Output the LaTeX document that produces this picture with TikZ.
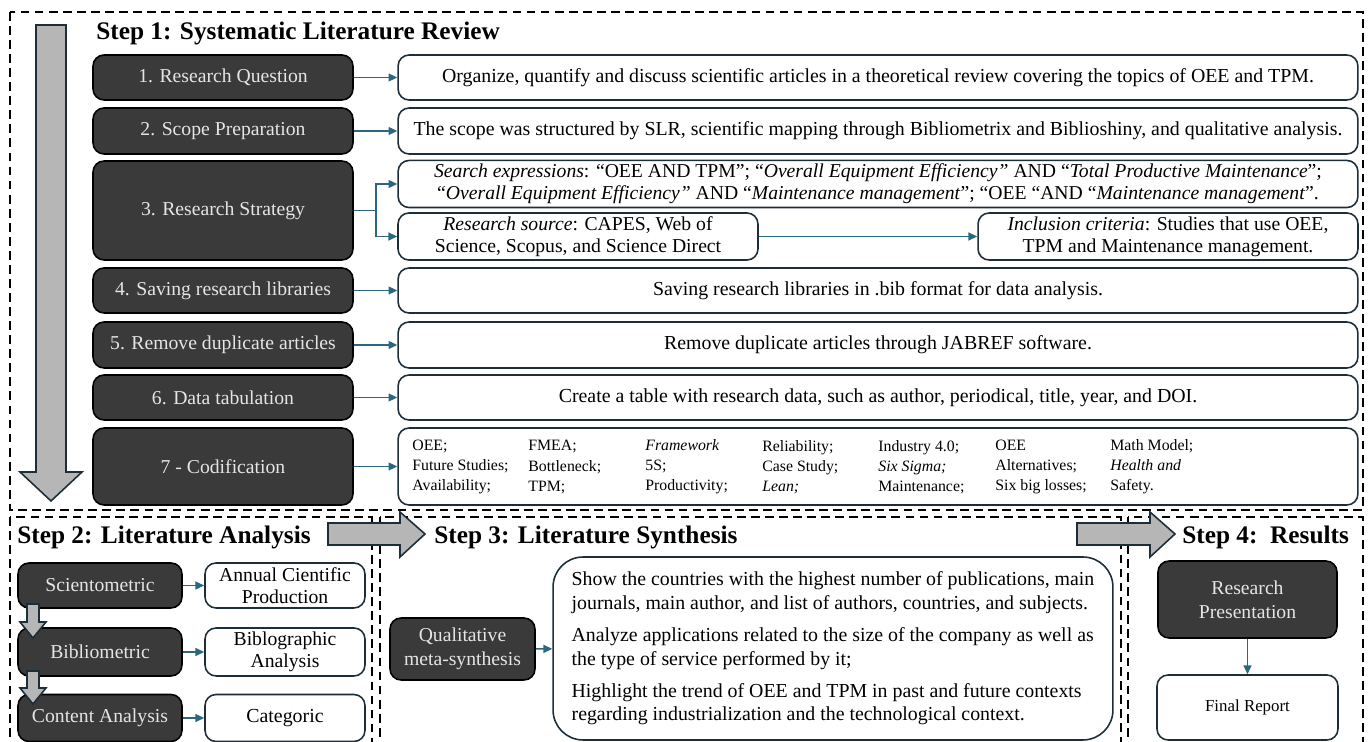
\documentclass[tikz,border=0pt]{standalone}
\usepackage{fontspec}
\setmainfont{Liberation Serif}
\usetikzlibrary{arrows.meta,positioning,calc}
\definecolor{boxgray}{RGB}{58,58,58}
\definecolor{linkblue}{RGB}{42,104,128}
\definecolor{framegray}{RGB}{30,46,56}
\definecolor{arrowgray}{RGB}{182,182,182}
\tikzset{
	x=0.02cm, y=-0.02cm,
	dark/.style={draw=black, line width=0.9pt, fill=boxgray, text=white!90!black, rounded corners=0.22cm, align=center, inner sep=2pt, font=\fontsize{11.2}{13.5}\selectfont},
	light/.style={draw=framegray, line width=0.9pt, fill=white, rounded corners=0.22cm, align=center, inner sep=2pt, font=\fontsize{11.3}{13.5}\selectfont},
	stepbox/.style={dark, minimum width=5.2cm},
	textbox/.style={light, minimum width=19.2cm},
	link/.style={-{Triangle[length=5pt,width=4.5pt]}, linkblue, line width=0.9pt},
	blockarrow/.style={draw=framegray, fill=arrowgray, line width=0.9pt, line join=miter},
	frame/.style={line width=0.6pt, dash pattern=on 5pt off 3pt},
	title/.style={anchor=west, font=\fontsize{14.4}{16}\selectfont\bfseries, inner sep=0pt}
}

\begin{document}
\begin{tikzpicture}
    \useasboundingbox (0,0) rectangle (1370,742);
    \clip (0,0) rectangle (1370,742);

    % frames
    \draw[frame] (10,12) rectangle (1363,510);
    \draw[frame] (10,517) rectangle (372,760);
    \draw[frame] (380,517) rectangle (1121,760);
    \draw[frame] (1128,517) rectangle (1363,760);

    % Step 1
    \node[title] (t1) at (96,33) {Step 1: Systematic Literature Review};
    \draw[blockarrow] (36,25) -- (66,25) -- (66,472) -- (82,472) -- (51,501) -- (20,472) -- (36,472) -- cycle;

    \node[stepbox, minimum height=0.9cm] (q1) at (223,77.5) {1. Research Question};
    \node[stepbox, minimum height=0.92cm] (q2) at (223,131) {2. Scope Preparation};
    \node[stepbox, minimum height=1.98cm] (q3) at (223,210.5) {3. Research Strategy};
    \node[stepbox, minimum height=0.9cm] (q4) at (223,290.5) {4. Saving research libraries};
    \node[stepbox, minimum height=0.92cm] (q5) at (223,345) {5. Remove duplicate articles};
    \node[stepbox, minimum height=0.9cm] (q6) at (223,397.5) {6. Data tabulation};
    \node[stepbox, minimum height=1.54cm] (q7) at (223,466.5) {7 - Codification};

    \node[textbox, minimum height=0.9cm] (d1) at (878,77.5) {Organize, quantify and discuss scientific articles in a theoretical review  covering the topics of OEE and TPM.};
    \node[textbox, minimum height=0.92cm] (d2) at (878,131) {The scope was structured by SLR, scientific mapping through Bibliometrix  and Biblioshiny,  and qualitative  analysis.};
    \node[textbox, minimum height=0.92cm, font=\fontsize{11.2}{12.5}\selectfont] (d3) at (878,184) {\textit{Search expressions}: “OEE AND TPM”; “\textit{Overall Equipment Efficiency”} AND “\textit{Total Productive Maintenance}”;\\“\textit{Overall Equipment Efficiency”} AND “\textit{Maintenance management}”;  “OEE “AND “\textit{Maintenance management}”.};
    \node[light, minimum width=7.2cm, minimum height=0.94cm, font=\fontsize{11.2}{12.5}\selectfont] (s3) at (578,236.5) {\textit{Research source}: CAPES, Web of\\Science, Scopus, and Science Direct};
    \node[light, minimum width=7.6cm, minimum height=0.94cm, font=\fontsize{11.2}{12.5}\selectfont] (c3) at (1168,236.5) {\textit{Inclusion criteria}: Studies that use OEE,\\TPM and Maintenance  management.};
    \node[textbox, minimum height=0.9cm] (d4) at (878,290.5) {Saving research libraries  in .bib format for data analysis.};
    \node[textbox, minimum height=0.92cm] (d5) at (878,345) {Remove duplicate articles  through JABREF  software.};
    \node[textbox, minimum height=0.9cm] (d6) at (878,397.5) {Create a table with research data, such as author, periodical, title,  year, and DOI.};
    \node[textbox, minimum height=1.54cm] (d7) at (878,466.5) {};
    \foreach \cx/\ctext [count=\i] in {412/{OEE;\\Future Studies;\\Availability;},
        528/{FMEA;\\Bottleneck;\\TPM;},
        645/{\textit{Framework}\\5S;\\Productivity;},
        762/{Reliability;\\Case Study;\\\textit{Lean;}},
        878/{Industry 4.0;\\\textit{Six Sigma;}\\Maintenance;},
        995/{OEE\\Alternatives;\\Six big losses;},
        1110/{Math Model;\\\textit{Health and}\\Safety.}}
        \node[anchor=west, align=left, inner sep=0pt, font=\fontsize{9}{11.4}\selectfont] (k\i) at (\cx,467) {\ctext};

    \draw[link] (q1) -- (d1);
    \draw[link] (q2) -- (d2);
    \draw[link] (q3.east) -- ++(22,0) |- (d3.west);
    \draw[link] (q3.east) -- ++(22,0) |- (s3.west);
    \draw[link] (s3) -- (c3);
    \draw[link] (q4) -- (d4);
    \draw[link] (q5) -- (d5);
    \draw[link] (q6) -- (d6);
    \draw[link] (q7) -- (d7);

    % Step 2
    \node[title] (t2) at (17,537) {Step 2: Literature Analysis};
    \node[dark, minimum width=3.28cm, minimum height=0.9cm] (a1) at (100,585.5) {Scientometric};
    \node[dark, minimum width=3.28cm, minimum height=0.96cm] (a2) at (100,652) {Bibliometric};
    \node[dark, minimum width=3.28cm, minimum height=0.94cm] (a3) at (100,718) {Content Analysis};
    \node[light, minimum width=3.2cm, minimum height=0.9cm, font=\fontsize{11.2}{12.5}\selectfont] (b1) at (285,585.5) {Annual  Cientific\\Production};
    \node[light, minimum width=3.2cm, minimum height=0.96cm, font=\fontsize{11.2}{12.5}\selectfont] (b2) at (285,652) {Biblographic\\Analysis};
    \node[light, minimum width=3.2cm, minimum height=0.94cm] (b3) at (285,718) {Categoric};
    \draw[link] (a1) -- (b1);
    \draw[link] (a2) -- (b2);
    \draw[link] (a3) -- (b3);
    \draw[blockarrow] (27,604) -- (39,604) -- (39,622) -- (46,622) -- (33,638) -- (20,622) -- (27,622) -- cycle;
    \draw[blockarrow] (27,671) -- (39,671) -- (39,688) -- (46,688) -- (33,704) -- (20,688) -- (27,688) -- cycle;

    % Step 3
    \draw[blockarrow] (328,523) -- (400,523) -- (400,512) -- (425,534) -- (400,557) -- (400,545) -- (328,545) -- cycle;
    \node[title] (t3) at (434,537) {Step 3: Literature Synthesis};
    \node[dark, minimum width=2.9cm, minimum height=1.24cm] (m1) at (462.5,649) {Qualitative\\meta-synthesis};
    \node[light, rounded corners=0.6cm, minimum width=11.2cm, minimum height=3.66cm, align=left, font=\fontsize{11.3}{13.4}\selectfont] (m2) at (833,648.5) {Show the countries with the highest number of publications, main\\journals, main author, and list of authors, countries, and subjects.\\[5pt]Analyze applications related to the size of the company as well as\\the type of service performed by it;\\[5pt]Highlight the trend of OEE and TPM in past and future contexts\\regarding industrialization  and the technological  context.};
    \draw[link] (m1) -- (m2);

    % Step 4
    \draw[blockarrow] (1077,523) -- (1150,523) -- (1150,512) -- (1175,534) -- (1150,557) -- (1150,545) -- (1077,545) -- cycle;
    \node[title] (t4) at (1182,537) {Step 4:\ \ Results};
    \node[dark, minimum width=3.58cm, minimum height=1.54cm] (r1) at (1247.5,599.5) {Research\\Presentation};
    \node[light, minimum width=3.62cm, minimum height=1.3cm, font=\fontsize{9.6}{11}\selectfont] (r2) at (1247.5,707.5) {Final  Report};
    \draw[link] (r1) -- (r2);
\end{tikzpicture}
\end{document}
